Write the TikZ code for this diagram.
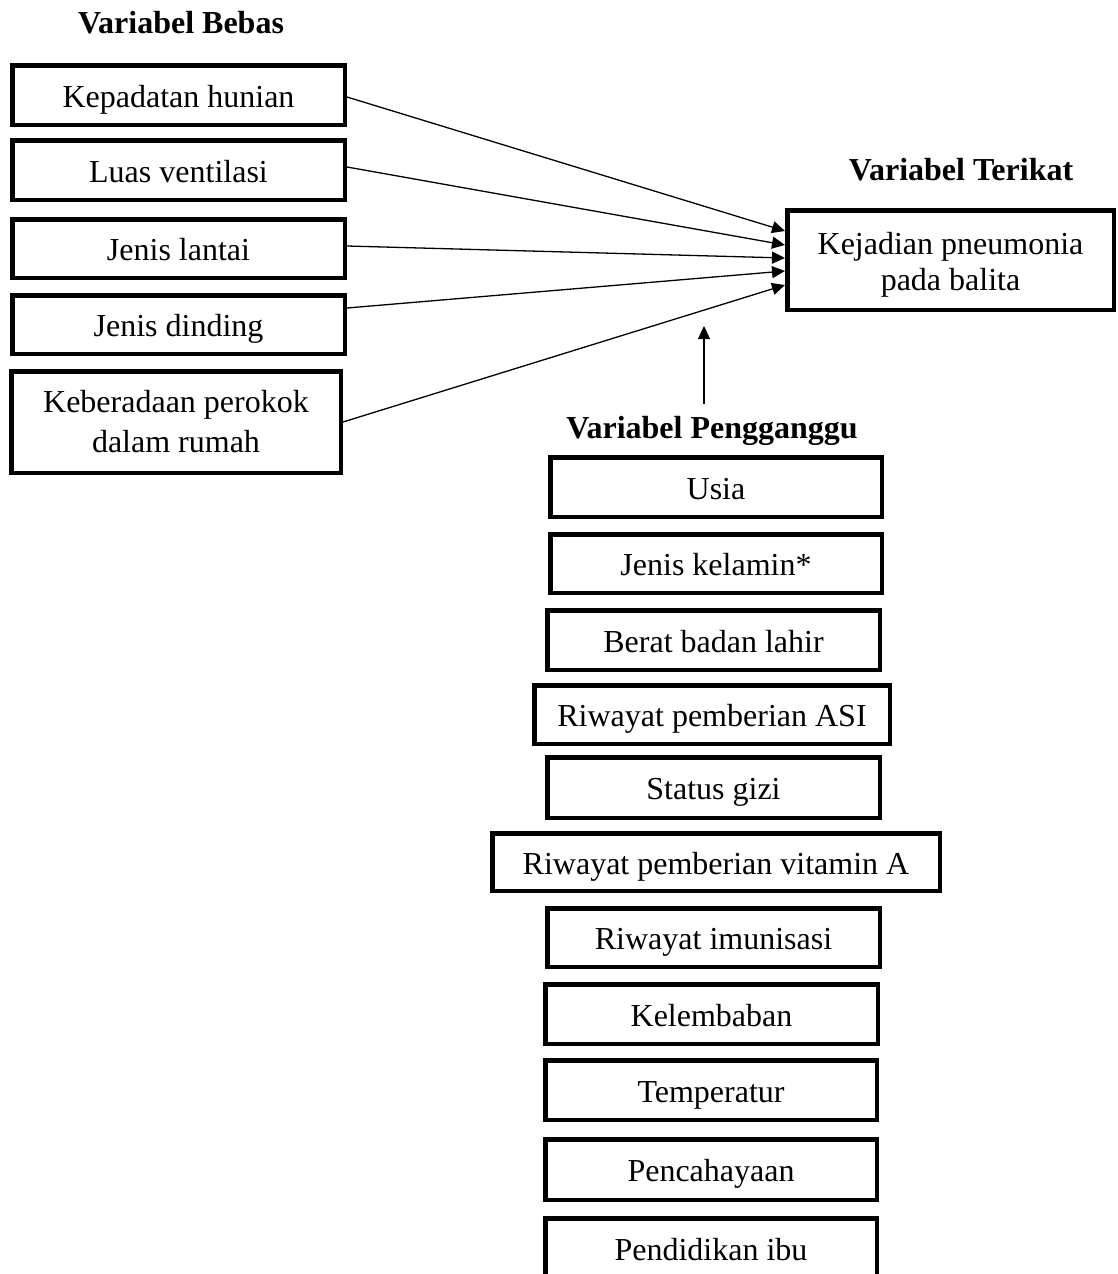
\documentclass[tikz,border=0pt]{standalone}
\usepackage{fontspec}
\setmainfont{Liberation Serif}
\usetikzlibrary{arrows.meta}
\tikzset{
  box/.style={draw, rectangle, line width=4.5pt, inner sep=0pt,
    font=\fontsize{32}{37}\selectfont, text height=24pt, text depth=0pt},
  boxtwo/.style={draw, rectangle, line width=4.5pt, inner sep=0pt,
    align=center, font=\fontsize{32}{37}\selectfont},
  head/.style={anchor=base, inner sep=0pt, font=\fontsize{32}{37}\selectfont\bfseries},
  conn/.style={line width=1.3pt, -{Triangle[length=13pt,width=12pt]}},
}
\begin{document}
\begin{tikzpicture}[x=1pt,y=-1pt]
\useasboundingbox (0,0) rectangle (1117,1274);
\clip (0,0) rectangle (1117,1274);
% headings
\node[head] (hb) at (181,33) {Variabel Bebas};
\node[head] (ht) at (961,180) {Variabel Terikat};
\node[head] (hp) at (712,438) {Variabel Pengganggu};
% independent variables
\node[box, minimum width=332.5, minimum height=59.5] (kep) at (178.5,95) {Kepadatan hunian};
\node[box, minimum width=332.5, minimum height=59.5] (luas) at (178.5,170) {Luas ventilasi};
\node[box, minimum width=332.5, minimum height=58.5] (lan) at (178.5,248.5) {Jenis lantai};
\node[box, minimum width=332.5, minimum height=58.5] (din) at (178.5,324.5) {Jenis dinding};
\node[boxtwo, font=\fontsize{32}{40}\selectfont, minimum width=329.5, minimum height=101.5] (rok) at (176,422) {Keberadaan perokok\\dalam rumah};
% dependent variable
\node[boxtwo, font=\fontsize{32}{36}\selectfont, minimum width=326.5, minimum height=99.5] (T) at (950.5,260) {\rule{0pt}{31pt}Kejadian pneumonia\\pada balita};
\coordinate (t1) at (785,231);
\coordinate (t2) at (785,245);
\coordinate (t3) at (785,258);
\coordinate (t4) at (785,271);
\coordinate (t5) at (785,285);
\draw[conn] ([yshift=-2pt]kep.east) -- (t1);
\draw[conn] ([yshift=3pt]luas.east) -- (t2);
\draw[conn] ([yshift=2.5pt]lan.east) -- (t3);
\draw[conn] ([yshift=16.5pt]din.east) -- (t4);
\draw[conn] (rok.east) -- (t5);
% confounders
\coordinate (pg) at (704,404);
\coordinate (pt) at (704,326);
\draw[conn] (pg) -- (pt);
\node[box, minimum width=331.5, minimum height=59.5] (usia) at (716,487) {Usia};
\node[box, minimum width=331.5, minimum height=58.5] (kel) at (716,563.5) {Jenis kelamin*};
\node[box, minimum width=332.5, minimum height=59.5] (bbl) at (713.5,640) {Berat badan lahir};
\node[box, minimum width=355.5, minimum height=58.5] (asi) at (712,714.5) {Riwayat pemberian ASI};
\node[box, minimum width=332.5, minimum height=60.5] (gizi) at (713.5,787.5) {Status gizi};
\node[box, minimum width=447.5, minimum height=57.5] (vita) at (716,862) {Riwayat pemberian vitamin A};
\node[box, minimum width=332.5, minimum height=58.5] (imun) at (713.5,937.5) {Riwayat imunisasi};
\node[box, minimum width=332.5, minimum height=59.5] (lemb) at (711.5,1014) {Kelembaban};
\node[box, minimum width=331.5, minimum height=59.5] (temp) at (711,1090) {Temperatur};
\node[box, minimum width=331.5, minimum height=60.5] (cah) at (711,1169.5) {Pencahayaan};
\node[box, minimum width=331.5, minimum height=59.5] (ibu) at (711,1248) {Pendidikan ibu};
\end{tikzpicture}
\end{document}
